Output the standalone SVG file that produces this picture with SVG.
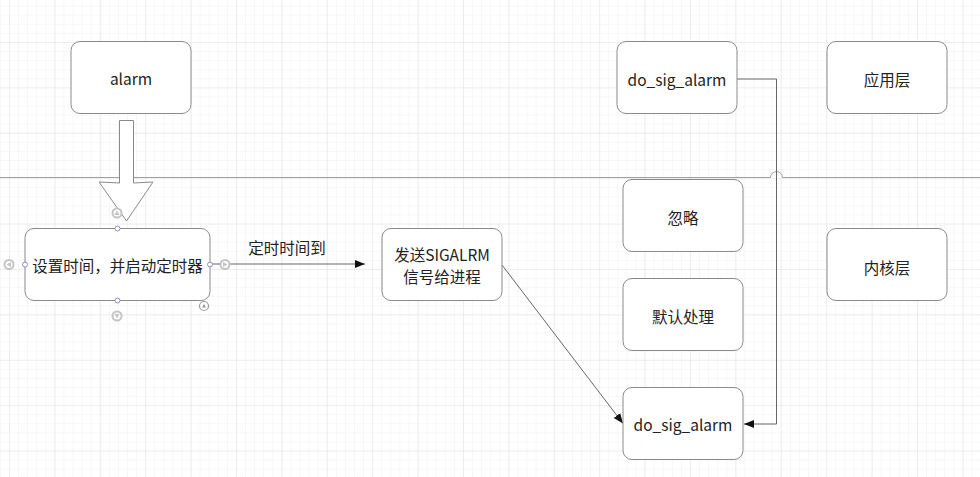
<svg xmlns="http://www.w3.org/2000/svg" width="980" height="477" viewBox="0 0 980 477">
<defs>
<pattern id="minor" x="9" y="42" width="9.08" height="9.08" patternUnits="userSpaceOnUse">
<path d="M0 0V9.08M0 0H9.08" fill="none" stroke="#efefef" stroke-width="1"/>
</pattern>
<pattern id="major" x="9" y="42" width="45.4" height="45.4" patternUnits="userSpaceOnUse">
<path d="M0 0V45.4M0 0H45.4" fill="none" stroke="#e3e3e3" stroke-width="1"/>
</pattern>
<marker id="ah" viewBox="0 0 10 10" refX="10" refY="5" markerWidth="10" markerHeight="10" markerUnits="userSpaceOnUse" orient="auto">
<path d="M0 1L10 5L0 9Z" fill="#111"/>
</marker>
</defs>
<style>
.box{fill:#fff;stroke:#8a8a8a;stroke-width:1}
.t{font-family:"Noto Sans CJK SC","Noto Sans",sans-serif;font-size:15.5px;fill:#222;text-anchor:middle;dominant-baseline:central}
.ln{fill:none;stroke:#666;stroke-width:1}
.div{fill:none;stroke:#a0a0a0;stroke-width:1}
.h{fill:#fff;stroke:#8c8cc8;stroke-width:1}
.g{fill:#fff;stroke:#c4c4c4;stroke-width:2}
.gi{fill:#c4c4c4}
</style>
<rect width="980" height="477" fill="#fff"/>
<rect width="980" height="477" fill="url(#minor)"/>
<rect width="980" height="477" fill="url(#major)"/>

<g id="layer-divider">
<path class="div" d="M0 177.5H770.5A6 6 0 0 1 782.5 177.5H980"/>
</g>

<g id="connectors">
<path class="ln" d="M737 79H776.5V424H744" marker-end="url(#ah)"/>
<path class="ln" d="M210 264H365" marker-end="url(#ah)"/>
<path class="ln" d="M502 265L623 423.5" marker-end="url(#ah)"/>
<text class="t" x="287" y="247">定时时间到</text>
<path id="big-arrow" d="M119.5 120.5H133.5V183L153 182L126.5 221L99 182L119.5 183Z" fill="#fff" stroke="#8a8a8a" stroke-width="1"/>
</g>

<g id="alarm">
<rect class="box" x="71" y="41.5" width="120" height="72" rx="9"/>
<text class="t" x="131" y="78">alarm</text>
</g>
<g id="do_sig_alarm_app">
<rect class="box" x="617" y="41.5" width="120" height="72" rx="9"/>
<text class="t" x="677" y="79">do_sig_alarm</text>
</g>
<g id="app-layer">
<rect class="box" x="827" y="41.5" width="120" height="72" rx="9"/>
<text class="t" x="887" y="79">应用层</text>
</g>
<g id="set-timer">
<rect class="box" x="25" y="228.5" width="185" height="72" rx="9"/>
<text class="t" x="117.5" y="265">设置时间，并启动定时器</text>
</g>
<g id="send-sigalrm">
<rect class="box" x="382" y="228.5" width="120" height="72" rx="9"/>
<text class="t" x="442" y="254">发送SIGALRM</text>
<text class="t" x="442" y="276">信号给进程</text>
</g>
<g id="ignore">
<rect class="box" x="623" y="179.5" width="120" height="72" rx="9"/>
<text class="t" x="683" y="217">忽略</text>
</g>
<g id="default">
<rect class="box" x="623" y="278.5" width="120" height="72" rx="9"/>
<text class="t" x="683" y="316">默认处理</text>
</g>
<g id="kernel-layer">
<rect class="box" x="827" y="228.5" width="120" height="72" rx="9"/>
<text class="t" x="887" y="267">内核层</text>
</g>
<g id="do_sig_alarm_kernel">
<rect class="box" x="623" y="387.5" width="120" height="72" rx="9"/>
<text class="t" x="683" y="424">do_sig_alarm</text>
</g>

<g id="selection-handles">
<circle class="g" cx="117" cy="213" r="4.5"/>
<path class="gi" d="M114.5 215L117 210.5L119.5 215Z"/>
<circle class="g" cx="9" cy="264.5" r="4.5"/>
<path class="gi" d="M11 262L6.5 264.5L11 267Z"/>
<circle class="g" cx="225" cy="264.5" r="4.5"/>
<path class="gi" d="M223 262L227.5 264.5L223 267Z"/>
<circle class="g" cx="117" cy="316" r="4.5"/>
<path class="gi" d="M114.5 314L117 318.5L119.5 314Z"/>
<circle cx="204" cy="306" r="4.5" fill="#fff" stroke="#999" stroke-width="1.2"/>
<path d="M202 307.5L204 304L206 307.5Z" fill="#999"/>
<circle class="h" cx="117.5" cy="228.5" r="2.5"/>
<circle class="h" cx="25" cy="264.5" r="2.5"/>
<circle class="h" cx="210" cy="264.5" r="2.5"/>
<circle class="h" cx="117.5" cy="300.5" r="2.5"/>
</g>
</svg>
